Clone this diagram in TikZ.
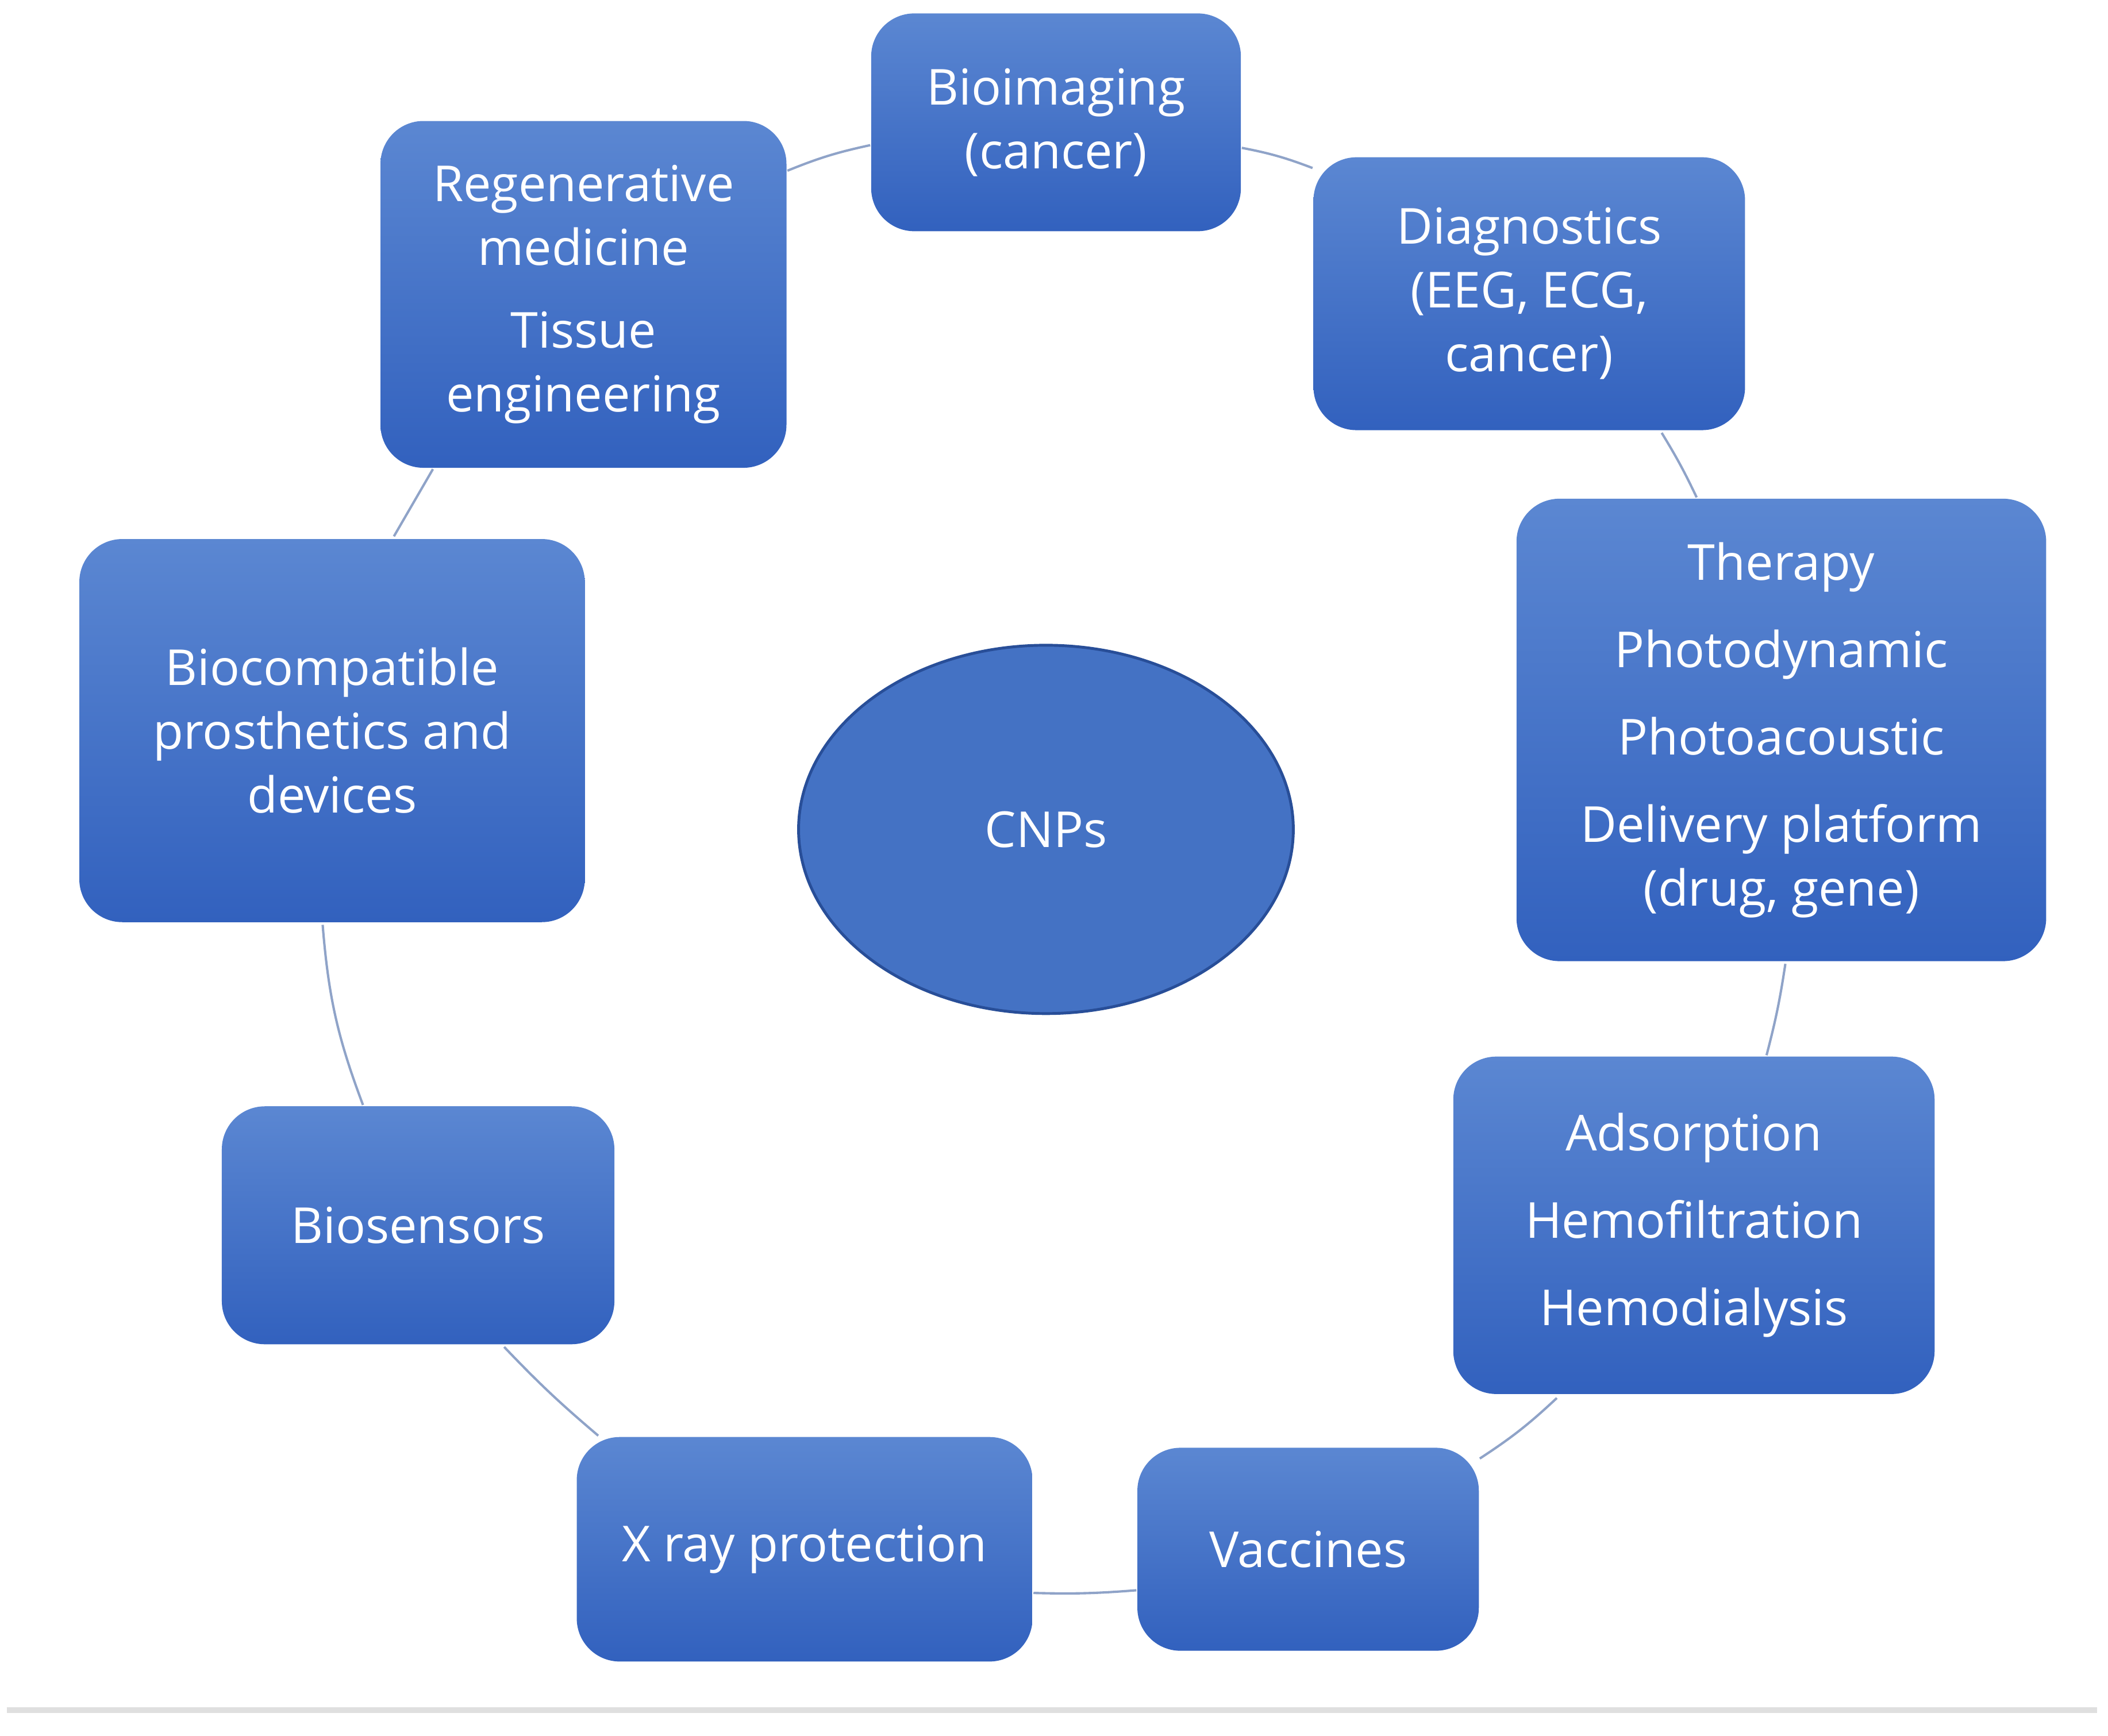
\documentclass[tikz,border=0pt]{standalone}
\usepackage{fontspec}
\setmainfont{Open Sans}
\usetikzlibrary{shapes.geometric}
\definecolor{boxtop}{HTML}{5B87D2}
\definecolor{boxbot}{HTML}{3261BE}
\definecolor{boxmid}{HTML}{4472C4}
\definecolor{edgec}{HTML}{8FA3C8}
\tikzset{
  box/.style={rectangle, rounded corners=0.32cm, top color=boxtop, bottom color=boxbot,
    draw=none, text=white, align=center, font=\fontsize{10.5}{13.5}\selectfont, inner sep=0pt},
  link/.style={draw=edgec, line width=0.5pt}
}
\newcommand{\bx}[6]{\node[box, minimum width=#3cm-#2cm, minimum height=#5cm-#4cm] (#1) at ({(#2+#3)/2},{-(#4+#5)/2}) {#6};}
\begin{document}
\begin{tikzpicture}
\useasboundingbox (0,0) rectangle (15.68,-12.91);
\bx{bioi}{6.48}{9.23}{0.10}{1.72}{Bioimaging\\(cancer)}
\bx{rege}{2.83}{5.85}{0.90}{3.48}{Regenerative\\medicine\\[4pt]Tissue\\engineering}
\bx{diag}{9.77}{12.98}{1.17}{3.20}{Diagnostics\\(EEG, ECG,\\cancer)}
\bx{ther}{11.28}{15.22}{3.71}{7.15}{Therapy\\[5pt]Photodynamic\\[5pt]Photoacoustic\\[5pt]Delivery platform\\(drug, gene)}
\bx{bioc}{0.59}{4.35}{4.01}{6.86}{Biocompatible\\prosthetics and\\devices}
\bx{sens}{1.65}{4.57}{8.23}{10.00}{Biosensors}
\bx{adso}{10.81}{14.39}{7.86}{10.37}{Adsorption\\[5pt]Hemofiltration\\[5pt]Hemodialysis}
\bx{xray}{4.29}{7.68}{10.69}{12.36}{X ray protection}
\bx{vacc}{8.46}{11.00}{10.77}{12.28}{Vaccines}
\node[ellipse, fill=boxmid, draw=boxbot!80!black, line width=0.6pt, minimum width=3.68cm, minimum height=2.74cm,
  text=white, font=\fontsize{10.5}{13.5}\selectfont] (cnp) at (7.78,-6.17) {CNPs};
\draw[link] (rege.east |- 0,-1.27) coordinate (r1) to[bend left=5] (bioi.west |- 0,-1.08);
\draw[link] (bioi.east |- 0,-1.10) to[bend left=5] (diag.west |- 0,-1.25);
\draw[link] (12.36,-3.22) to[bend left=3] (12.62,-3.70);
\draw[link] (13.28,-7.17) to[bend left=3] (13.14,-7.85);
\draw[link] (11.58,-10.40) to[bend left=5] (vacc.east |- 0,-10.85);
\draw[link] (vacc.west |- 0,-11.83) to[bend left=3] (xray.east |- 0,-11.85);
\draw[link] (4.45,-10.68) to[bend left=3] (3.75,-10.02);
\draw[link] (2.70,-8.22) to[bend left=8] (2.40,-6.88);
\draw[link] (2.93,-3.99) to (3.22,-3.49);
\draw[gray!25, line width=1.2pt] (0.05,-12.72) -- (15.60,-12.72);
\end{tikzpicture}
\end{document}
